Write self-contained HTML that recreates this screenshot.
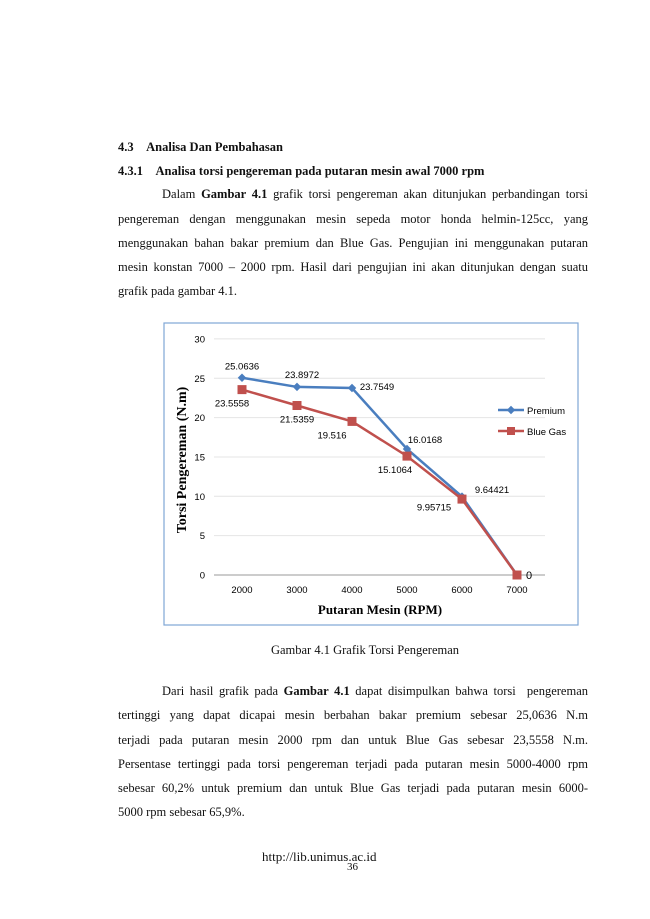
<!DOCTYPE html>
<html><head><meta charset="utf-8"><style>
body{margin:0;width:650px;height:919px;background:#fff;position:relative;font-family:"Liberation Serif",serif;color:#111;overflow:hidden}
.t{position:absolute;font-size:12.5px;white-space:nowrap}
.j{position:absolute;left:118px;width:470px;font-size:12.5px;text-align:justify;text-align-last:justify;white-space:nowrap}
.b{font-weight:bold}
</style></head><body>
<div class="t b" style="left:118px;top:140px">4.3&nbsp;&nbsp;&nbsp;&nbsp;Analisa Dan Pembahasan</div>
<div class="t b" style="left:118px;top:164px">4.3.1&nbsp;&nbsp;&nbsp;&nbsp;Analisa torsi pengereman pada putaran mesin awal 7000 rpm</div>
<div class="j" style="top:187px;left:162px;width:426px">Dalam <b>Gambar 4.1</b> grafik torsi pengereman akan ditunjukan perbandingan torsi</div>
<div class="j" style="top:212px">pengereman dengan menggunakan mesin sepeda motor honda helmin-125cc, yang</div>
<div class="j" style="top:236px">menggunakan bahan bakar premium dan Blue Gas. Pengujian ini menggunakan putaran</div>
<div class="j" style="top:260px">mesin konstan 7000 – 2000 rpm. Hasil dari pengujian ini akan ditunjukan dengan suatu</div>
<div class="t" style="left:118px;top:284px">grafik pada gambar 4.1.</div>

<svg style="position:absolute;left:0;top:0" width="650" height="919" id="chart">
<rect x="164" y="323" width="414" height="302" fill="#fff" stroke="#7fa6d6" stroke-width="1.2"/>
<g id="grid"></g><g id="series"></g>
<text transform="translate(186,460) rotate(-90)" text-anchor="middle" font-family="Liberation Serif" font-weight="bold" font-size="14">Torsi Pengereman (N.m)</text>
<text x="380" y="614" text-anchor="middle" font-family="Liberation Serif" font-weight="bold" font-size="13">Putaran Mesin (RPM)</text>
<line x1="498" y1="410" x2="524" y2="410" stroke="#4a7ebf" stroke-width="2.5"/>
<rect x="508" y="407" width="6" height="6" fill="#4a7ebf" transform="rotate(45 511 410)"/>
<text x="527" y="414" font-family="Liberation Sans" font-size="9.5">Premium</text>
<line x1="498" y1="431" x2="524" y2="431" stroke="#c0504d" stroke-width="2.5"/>
<rect x="507" y="427" width="8" height="8" fill="#c0504d"/>
<text x="527" y="435" font-family="Liberation Sans" font-size="9.5">Blue Gas</text>
</svg>

<div class="t" style="left:0;width:730px;text-align:center;top:643px">Gambar 4.1 Grafik Torsi Pengereman</div>
<div class="j" style="top:684px;left:162px;width:426px">Dari hasil grafik pada <b>Gambar 4.1</b> dapat disimpulkan bahwa torsi &nbsp;pengereman</div>
<div class="j" style="top:708px">tertinggi yang dapat dicapai mesin berbahan bakar premium sebesar 25,0636 N.m</div>
<div class="j" style="top:733px">terjadi pada putaran mesin 2000 rpm dan untuk Blue Gas sebesar 23,5558 N.m.</div>
<div class="j" style="top:757px">Persentase tertinggi pada torsi pengereman terjadi pada putaran mesin 5000-4000 rpm</div>
<div class="j" style="top:781px">sebesar 60,2% untuk premium dan untuk Blue Gas terjadi pada putaran mesin 6000-</div>
<div class="t" style="left:118px;top:805px">5000 rpm sebesar 65,9%.</div>
<div class="t" style="left:262px;top:849px;font-size:13px">http://lib.unimus.ac.id</div>
<div class="t" style="left:347px;top:861px;font-size:11px">36</div>

<script>
const categories=[2000,3000,4000,5000,6000,7000];
const premium=[25.0636,23.8972,23.7549,16.0168,9.95715,0];
const blueGas=[23.5558,21.5359,19.516,15.1064,9.64421,0];
const yTicks=[0,5,10,15,20,25,30];
const premiumLabels=["25.0636","23.8972","23.7549","16.0168","9.95715",""];
const blueLabels=["23.5558","21.5359","19.516","15.1064","9.64421","0"];
const NS="http://www.w3.org/2000/svg";
const xS=i=>242+i*55, yS=v=>575-v*7.87;
const grid=document.getElementById('grid'), ser=document.getElementById('series');
function mk(tag,attrs,parent){const e=document.createElementNS(NS,tag);for(const k in attrs)e.setAttribute(k,attrs[k]);parent.appendChild(e);return e;}
yTicks.forEach(v=>{
  const l=mk('line',{x1:214,x2:545,y1:yS(v),y2:yS(v),stroke:v===0?'#999':'#e4e4e4','stroke-width':1},grid);
  
  
  const t=mk('text',{x:205,y:yS(v)+3.5,'text-anchor':'end','font-family':'Liberation Sans','font-size':9.5},grid);
  t.textContent=v;
  
  
});
categories.forEach((c,i)=>{
  const t=mk('text',{x:xS(i),y:593,'text-anchor':'middle','font-family':'Liberation Sans','font-size':9.5},grid);
  t.textContent=c;
  
  
});
const pl=mk('polyline',{points:premium.map((v,i)=>xS(i)+','+yS(v)).join(' '),fill:'none',stroke:'#4a7ebf','stroke-width':2.5},ser);


const bl=mk('polyline',{points:blueGas.map((v,i)=>xS(i)+','+yS(v)).join(' '),fill:'none',stroke:'#c0504d','stroke-width':2.5},ser);


premium.forEach((v,i)=>{
  const m=mk('rect',{x:xS(i)-3,y:yS(v)-3,width:6,height:6,fill:'#4a7ebf',transform:`rotate(45 ${xS(i)} ${yS(v)})`},ser);
  
  
});
blueGas.forEach((v,i)=>{
  const m=mk('rect',{x:xS(i)-4.5,y:yS(v)-4.5,width:9,height:9,fill:'#c0504d'},ser);
  
  
});
const pOff=[[0,-8],[5,-9],[25,2],[18,-6],[-28,14],[0,0]];
const bOff=[[-10,17],[0,17],[-20,17],[-12,17],[30,-6],[12,4]];
premiumLabels.forEach((s,i)=>{ if(!s)return;
  const t=mk('text',{x:xS(i)+pOff[i][0],y:yS(premium[i])+pOff[i][1],'text-anchor':'middle','font-family':'Liberation Sans','font-size':9.5},ser);
  t.textContent=s;
  
  
});
blueLabels.forEach((s,i)=>{
  const t=mk('text',{x:xS(i)+bOff[i][0],y:yS(blueGas[i])+bOff[i][1],'text-anchor':'middle','font-family':'Liberation Sans','font-size':i===5?11:9.5},ser);
  t.textContent=s;
  
  
});
</script>
</body></html>
